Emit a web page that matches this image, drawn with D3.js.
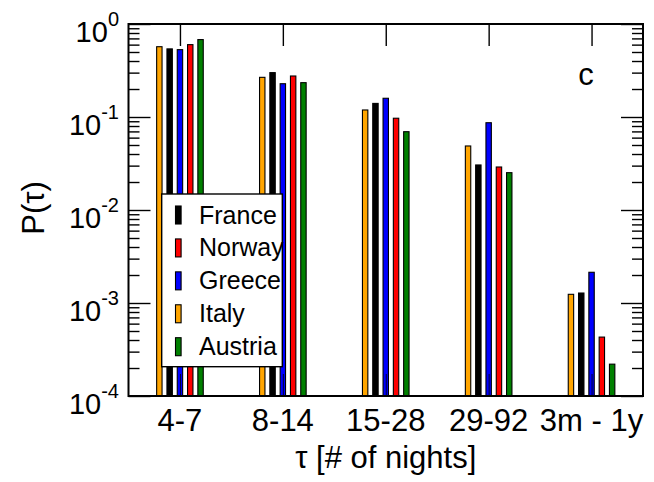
<!DOCTYPE html>
<html>
<head>
<meta charset="utf-8">
<script src="https://cdn.jsdelivr.net/npm/d3@7"></script>
<style>
  html, body { margin: 0; padding: 0; background: #fff; }
  svg { display: block; font-family: "Liberation Sans", Arial, Helvetica, sans-serif; }
</style>
</head>
<body>
<svg id="chart" width="654" height="482"></svg>
<script>
// ---- data ----
const categories = ["4-7", "8-14", "15-28", "29-92", "3m - 1y"];
const barOrder = ["Italy", "France", "Greece", "Norway", "Austria"];
const legendOrder = ["France", "Norway", "Greece", "Italy", "Austria"];
const italy   = [0.57, 0.267, 0.119, 0.0488, 0.00124];
const france  = [0.54, 0.30, 0.140, 0.0305, 0.00128];
const greece  = [0.53, 0.228, 0.159, 0.0868, 0.00214];
const norway  = [0.60, 0.276, 0.097, 0.029, 0.00043];
const austria = [0.68, 0.234, 0.0695, 0.0252, 0.00022];
const yTickExps = [0, -1, -2, -3, -4];

const seriesValues = { Italy: italy, France: france, Greece: greece, Norway: norway, Austria: austria };
const colors = { Italy: "#FFA500", France: "#000000", Greece: "#0000FF", Norway: "#FF0000", Austria: "#008000" };

// ---- layout ----
const L = 128.5, R = 643, T = 24, B = 396;
const svg = d3.select("#chart");

const x = d3.scaleBand().domain(categories).range([L, R]).paddingInner(0).paddingOuter(0);
const xs = d3.scaleBand().domain(barOrder).range([-25.75, 25.75]);
const y = d3.scaleLog().domain([1e-4, 1]).range([B, T]);

// bars
const rows = [];
categories.forEach((c, i) => barOrder.forEach(s => rows.push({ c, s, v: seriesValues[s][i] })));
const bw = 5.4;
svg.append("g").selectAll("rect").data(rows).join("rect")
  .attr("x", d => x(d.c) + x.bandwidth() / 2 + xs(d.s) + xs.bandwidth() / 2 - bw / 2)
  .attr("y", d => y(d.v))
  .attr("width", bw)
  .attr("height", d => y(1e-4) - y(d.v))
  .attr("fill", d => colors[d.s])
  .attr("stroke", "#000")
  .attr("stroke-width", 1.1);

// minor/major ticks
const majors = yTickExps.map(e => Math.pow(10, e));
const minors = y.ticks().filter(v => !majors.some(m => Math.abs(m - v) / m < 1e-9));

function styleAxis(g) {
  g.select(".domain").remove();
  g.selectAll(".tick line").attr("stroke", "#000").attr("stroke-width", 1.4);
  g.selectAll(".tick text").remove();
}
// left (ticks pointing in)
svg.append("g").attr("transform", `translate(${L},0)`)
  .call(d3.axisRight(y).tickValues(majors).tickSize(22).tickFormat("")).call(styleAxis);
svg.append("g").attr("transform", `translate(${L},0)`)
  .call(d3.axisRight(y).tickValues(minors).tickSize(11).tickFormat("")).call(styleAxis);
// right
svg.append("g").attr("transform", `translate(${R},0)`)
  .call(d3.axisLeft(y).tickValues(majors).tickSize(22).tickFormat("")).call(styleAxis);
svg.append("g").attr("transform", `translate(${R},0)`)
  .call(d3.axisLeft(y).tickValues(minors).tickSize(11).tickFormat("")).call(styleAxis);
// top
const xc = d3.scalePoint().domain(categories).range([L + x.bandwidth() / 2, R - x.bandwidth() / 2]);
svg.append("g").attr("transform", `translate(0,${T})`)
  .call(d3.axisBottom(xc).tickSize(22).tickFormat("")).call(styleAxis);
// bottom
svg.append("g").attr("transform", `translate(0,${B})`)
  .call(d3.axisTop(xc).tickSize(22).tickFormat("")).call(g => {
    g.select(".domain").remove();
    g.selectAll(".tick line").attr("stroke", "#000").attr("stroke-width", 0.8);
    g.selectAll(".tick text").remove();
  });

// frame
svg.append("rect").attr("x", L).attr("y", T).attr("width", R - L).attr("height", B - T)
  .attr("fill", "none").attr("stroke", "#000").attr("stroke-width", 2);

// y tick labels with superscripts
const ylab = svg.append("g").selectAll("text").data(yTickExps).join("text")
  .attr("x", 119)
  .attr("y", d => y(Math.pow(10, d)) + 18)
  .attr("text-anchor", "end")
  .attr("font-size", 29)
  .attr("fill", "#000");
ylab.append("tspan").text("10");
ylab.append("tspan").attr("dy", -16).attr("font-size", 20).text(d => String(d));

// x tick labels
svg.append("g").selectAll("text").data(categories).join("text")
  .attr("x", d => xc(d))
  .attr("y", 431)
  .attr("text-anchor", "middle")
  .attr("font-size", 31)
  .attr("fill", "#000")
  .text(d => d);

// axis titles
svg.append("text").attr("x", (L + R) / 2).attr("y", 468)
  .attr("text-anchor", "middle").attr("font-size", 31).text("τ [# of nights]");
svg.append("text").attr("transform", `translate(44,208) rotate(-90)`)
  .attr("text-anchor", "middle").attr("font-size", 31).text("P(τ)");

// panel label
svg.append("text").attr("x", 586).attr("y", 85).attr("text-anchor", "middle")
  .attr("font-size", 31).text("c");

// legend
const lg = svg.append("g");
lg.append("rect").attr("x", 161.7).attr("y", 194).attr("width", 120.6).attr("height", 172.7)
  .attr("fill", "#fff").attr("stroke", "#000").attr("stroke-width", 1.4);
const ly = d3.scalePoint().domain(legendOrder).range([215, 346.7]);
const items = lg.selectAll("g.item").data(legendOrder).join("g").attr("class", "item");
items.append("rect").attr("x", 175.5).attr("y", d => ly(d) - 9).attr("width", 5.6).attr("height", 18)
  .attr("fill", d => colors[d]).attr("stroke", "#000").attr("stroke-width", 1.1);
items.append("text").attr("x", 199).attr("y", d => ly(d) + 8.5).attr("font-size", 25).text(d => d);
</script>
</body>
</html>
